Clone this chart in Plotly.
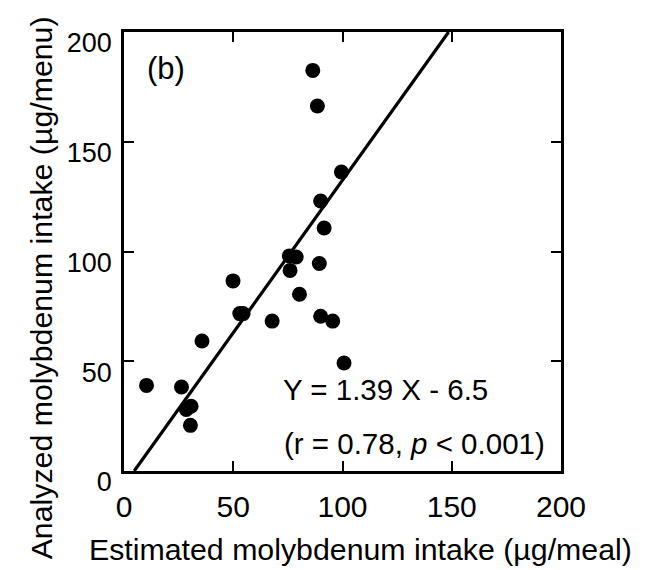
import plotly.graph_objects as go

# values (panel b)
estimated = [86.4, 88.5, 99.5, 90.0, 91.6, 75.7, 78.8, 76.0, 89.4, 49.9, 80.3,
             53.0, 54.5, 67.8, 90.0, 95.5, 35.7, 100.7, 10.3, 26.3, 30.7, 28.5, 30.4]
analyzed = [182.5, 166.3, 136.2, 123.0, 110.7, 98.0, 97.5, 91.4, 94.5, 86.6, 80.5,
            71.7, 71.7, 68.3, 70.5, 68.3, 59.2, 49.2, 39.0, 38.3, 29.5, 28.0, 20.8]

slope = 1.39
intercept = -6.5
tick_vals = [0, 50, 100, 150, 200]

FONT = "Liberation Sans, Arial, sans-serif"

# regression line, from y=0 up to the top of the frame
line_x = [(0 - intercept) / slope, (200 - intercept) / slope]
line_y = [slope * v + intercept for v in line_x]

fig = go.Figure()
fig.add_trace(go.Scatter(x=line_x, y=line_y, mode="lines",
                         line=dict(color="black", width=3.2), hoverinfo="skip"))
fig.add_trace(go.Scatter(x=estimated, y=analyzed, mode="markers",
                         marker=dict(color="black", size=15, line=dict(width=0))))

axis_common = dict(
    range=[0, 200], tickvals=tick_vals, showgrid=False, zeroline=False,
    showline=True, linecolor="black", linewidth=2.5, mirror="ticks",
    ticks="inside", ticklen=10, tickwidth=2, tickcolor="black", automargin=False,
)

fig.update_xaxes(**axis_common, tickfont=dict(family=FONT, size=30, color="black"),
                 ticklabelstandoff=7)
fig.update_yaxes(**axis_common, tickfont=dict(family=FONT, size=27, color="black"),
                 ticklabelshift=11, ticklabelstandoff=4)

txt = dict(family=FONT, size=29.5, color="black")
fig.add_annotation(x=19.2, y=183.5, xref="x", yref="y", text="(b)", showarrow=False,
                   font=dict(family=FONT, size=31, color="black"))
fig.add_annotation(x=72.0, y=37.2, xref="x", yref="y", text="Y = 1.39 X - 6.5",
                   showarrow=False, xanchor="left", font=txt)
fig.add_annotation(x=72.3, y=12.6, xref="x", yref="y",
                   text="(r = 0.78, <i>p</i> < 0.001)",
                   showarrow=False, xanchor="left", font=txt)

# axis titles placed as annotations to match the offsets in the original
fig.add_annotation(x=0.542, y=-0.178, xref="paper", yref="paper",
                   xanchor="center", yanchor="middle",
                   text="Estimated molybdenum intake (µg/meal)", showarrow=False,
                   font=dict(family=FONT, size=30.3, color="black"))
fig.add_annotation(x=-0.188, y=0.418, xref="paper", yref="paper", textangle=-90,
                   xanchor="center", yanchor="middle",
                   text="Analyzed molybdenum intake (µg/menu)", showarrow=False,
                   font=dict(family=FONT, size=30.3, color="black"))

# the page body adds an 8px margin, so the figure is drawn 8px smaller
fig.update_layout(
    width=646, height=562,
    margin=dict(l=115.5, r=92.5, t=23.7, b=99.3, autoexpand=False),
    plot_bgcolor="white", paper_bgcolor="white",
    showlegend=False,
)

fig.write_html("out.html")
